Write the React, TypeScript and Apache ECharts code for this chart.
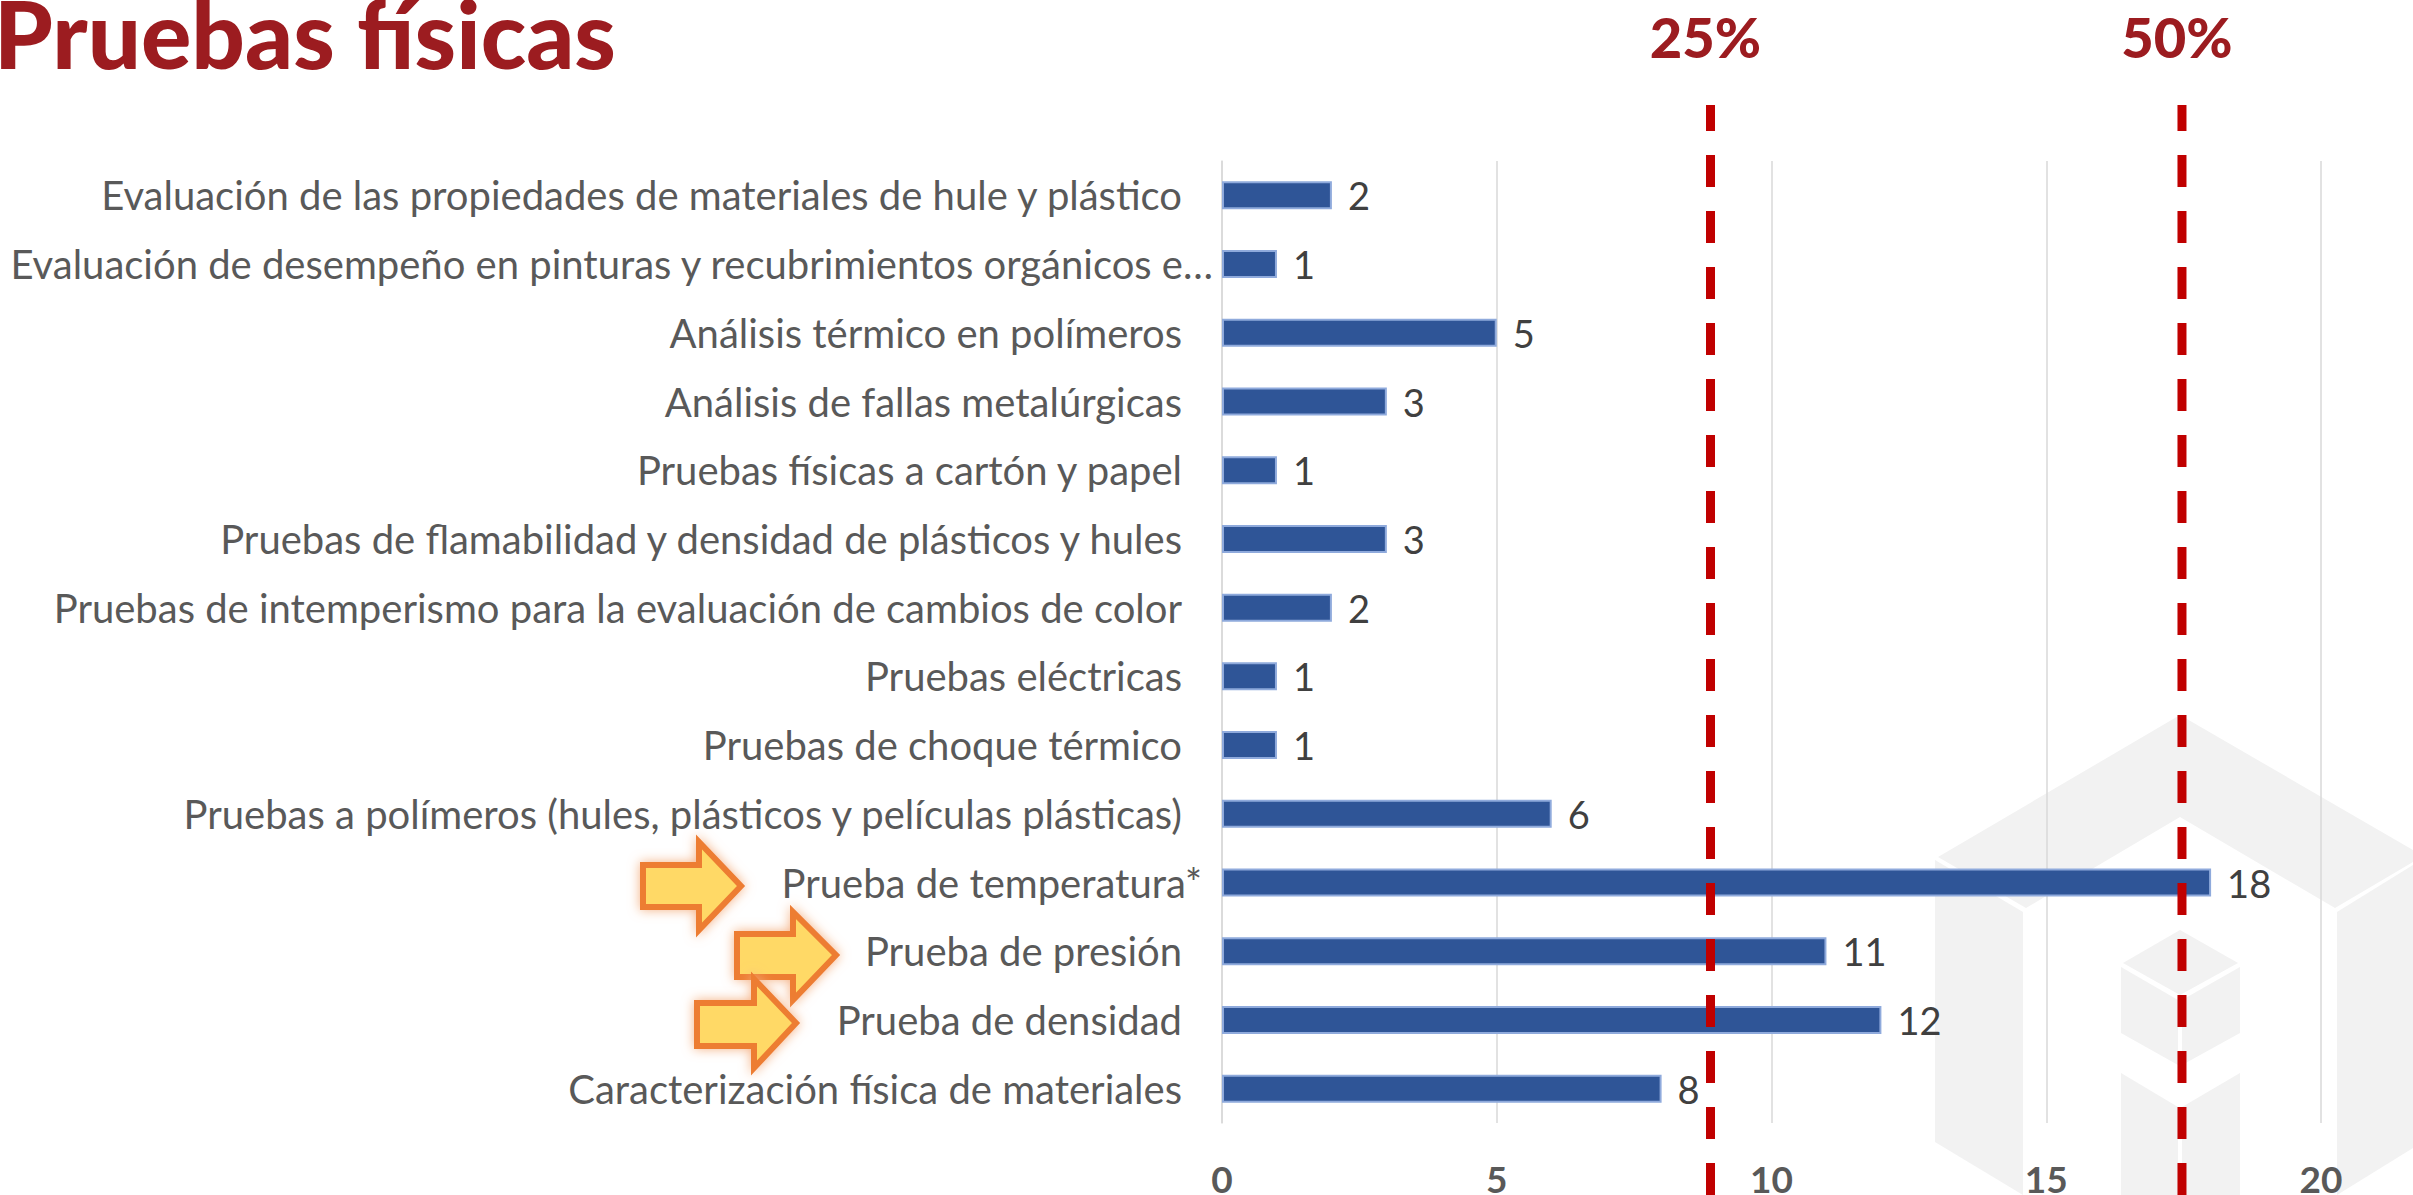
import React, { useEffect, useRef } from "react";
import * as echarts from "echarts";

const categories = [
  "Evaluación de las propiedades de materiales de hule y plástico",
  "Evaluación de desempeño en pinturas y recubrimientos orgánicos e…",
  "Análisis térmico en polímeros",
  "Análisis de fallas metalúrgicas",
  "Pruebas físicas a cartón y papel",
  "Pruebas de flamabilidad y densidad de plásticos y hules",
  "Pruebas de intemperismo para la evaluación de cambios de color",
  "Pruebas eléctricas",
  "Pruebas de choque térmico",
  "Pruebas a polímeros (hules, plásticos y películas plásticas)",
  "Prueba de temperatura*",
  "Prueba de presión",
  "Prueba de densidad",
  "Caracterización física de materiales",
];
const values = [2, 1, 5, 3, 1, 3, 2, 1, 1, 6, 18, 11, 12, 8];
const thresholds = [8.89, 17.47];
const thresholdLabels = ["25%", "50%"];
const FONT = "Lato, sans-serif";

const grey = "#f2f2f2";
const logoPolys: number[][][] = [
  [[1938, 857], [2180, 715], [2413, 850], [2413, 862], [2335, 908], [2180, 817], [2026, 908]],
  [[1935, 860], [2023, 912], [2023, 1195], [1935, 1142]],
  [[2337, 912], [2413, 865], [2413, 1148], [2337, 1195]],
  [[2123, 963], [2180, 930], [2238, 963], [2180, 995]],
  [[2121, 967], [2178, 1000], [2178, 1065], [2121, 1033]],
  [[2182, 1000], [2240, 967], [2240, 1033], [2182, 1065]],
  [[2121, 1073], [2178, 1107], [2178, 1195], [2121, 1195]],
  [[2182, 1107], [2240, 1073], [2240, 1195], [2182, 1195]],
];

const arrow = (l: number, r: number, b: number, st: number, sb: number, ht: number, hb: number, t: number) => [
  [l, st], [b, st], [b, ht], [r, t], [b, hb], [b, sb], [l, sb],
];
const arrows = [
  arrow(643, 741, 699, 865, 907, 842, 930, 886),
  arrow(737, 836, 793, 934, 977, 912, 1000, 955),
  arrow(697, 796, 754, 1003, 1046, 979, 1068, 1023),
];

export default function App() {
  const ref = useRef<HTMLDivElement>(null);
  useEffect(() => {
    document.body.style.margin = "0";
    document.body.style.overflow = "hidden";
    const chart = echarts.init(ref.current!, undefined, { renderer: "svg" });
    chart.setOption({
      animation: false,
      backgroundColor: "#ffffff",
      title: {
        text: "Pruebas físicas",
        left: -11,
        top: -20,
        textStyle: { fontFamily: FONT, fontWeight: 900, fontSize: 94, color: "#9c1c20" },
      },
      grid: { left: 1222, width: 1099, top: 161, height: 962, containLabel: false, outerBoundsMode: "none" },
      xAxis: {
        type: "value",
        min: 0,
        max: 20,
        interval: 5,
        axisLine: { show: false },
        axisTick: { show: false },
        splitLine: { lineStyle: { color: "#d9d9d9", width: 1.5 } },
        axisLabel: { margin: 40, fontFamily: FONT, fontWeight: "bold", fontSize: 37, lineHeight: 30, color: "#595959" },
      },
      yAxis: {
        type: "category",
        inverse: true,
        data: categories.map((c) => ({
          value: c,
          textStyle: { padding: [0, c.endsWith("…") ? 0 : c.endsWith("*") ? 11 : 31, 0, 0] },
        })),
        axisLine: { show: true, lineStyle: { color: "#d9d9d9", width: 1.5 } },
        axisTick: { show: false },
        axisLabel: { margin: 9, interval: 0, fontFamily: FONT, fontSize: 40, color: "#595959" },
      },
      series: [
        {
          type: "bar",
          data: values,
          barWidth: 28,
          z: 2,
          itemStyle: { color: "#2f5597", borderColor: "#8faadc", borderWidth: 2 },
          label: { show: true, position: "right", distance: 16, fontFamily: FONT, fontSize: 38, color: "#404040" },
        },
        {
          type: "custom",
          z: 5,
          clip: false,
          data: thresholds.map((v, i) => [v, i]),
          encode: { x: 0, y: -1 },
          renderItem: (params: any, api: any) => {
            const x = api.coord([api.value(0), 0])[0];
            return {
              type: "group",
              children: [
                {
                  type: "line",
                  shape: { x1: x, y1: 105, x2: x, y2: 1195 },
                  style: { stroke: "#c00000", lineWidth: 9, lineDash: [32, 24], lineDashOffset: 6 },
                },
                {
                  type: "text",
                  style: {
                    x: x - 5,
                    y: 36,
                    text: thresholdLabels[params.dataIndex],
                    align: "center",
                    verticalAlign: "middle",
                    fontFamily: FONT,
                    fontWeight: 900,
                    fontSize: 56,
                    fill: "#9c1c20",
                  },
                },
              ],
            };
          },
        },
      ],
      graphic: [
        ...logoPolys.map((points) => ({
          type: "polygon",
          z: -10,
          silent: true,
          shape: { points },
          style: { fill: grey },
        })),
        ...arrows.map((points) => ({
          type: "polygon",
          z: 20,
          silent: true,
          shape: { points },
          style: {
            fill: "#ffd966",
            stroke: "#ed7d31",
            lineWidth: 6,
            shadowBlur: 12,
            shadowColor: "#f4b183",
          },
        })),
      ],
    });
    return () => chart.dispose();
  }, []);
  return <div ref={ref} style={{ position: "absolute", left: 0, top: 0, width: 2413, height: 1195 }} />;
}
